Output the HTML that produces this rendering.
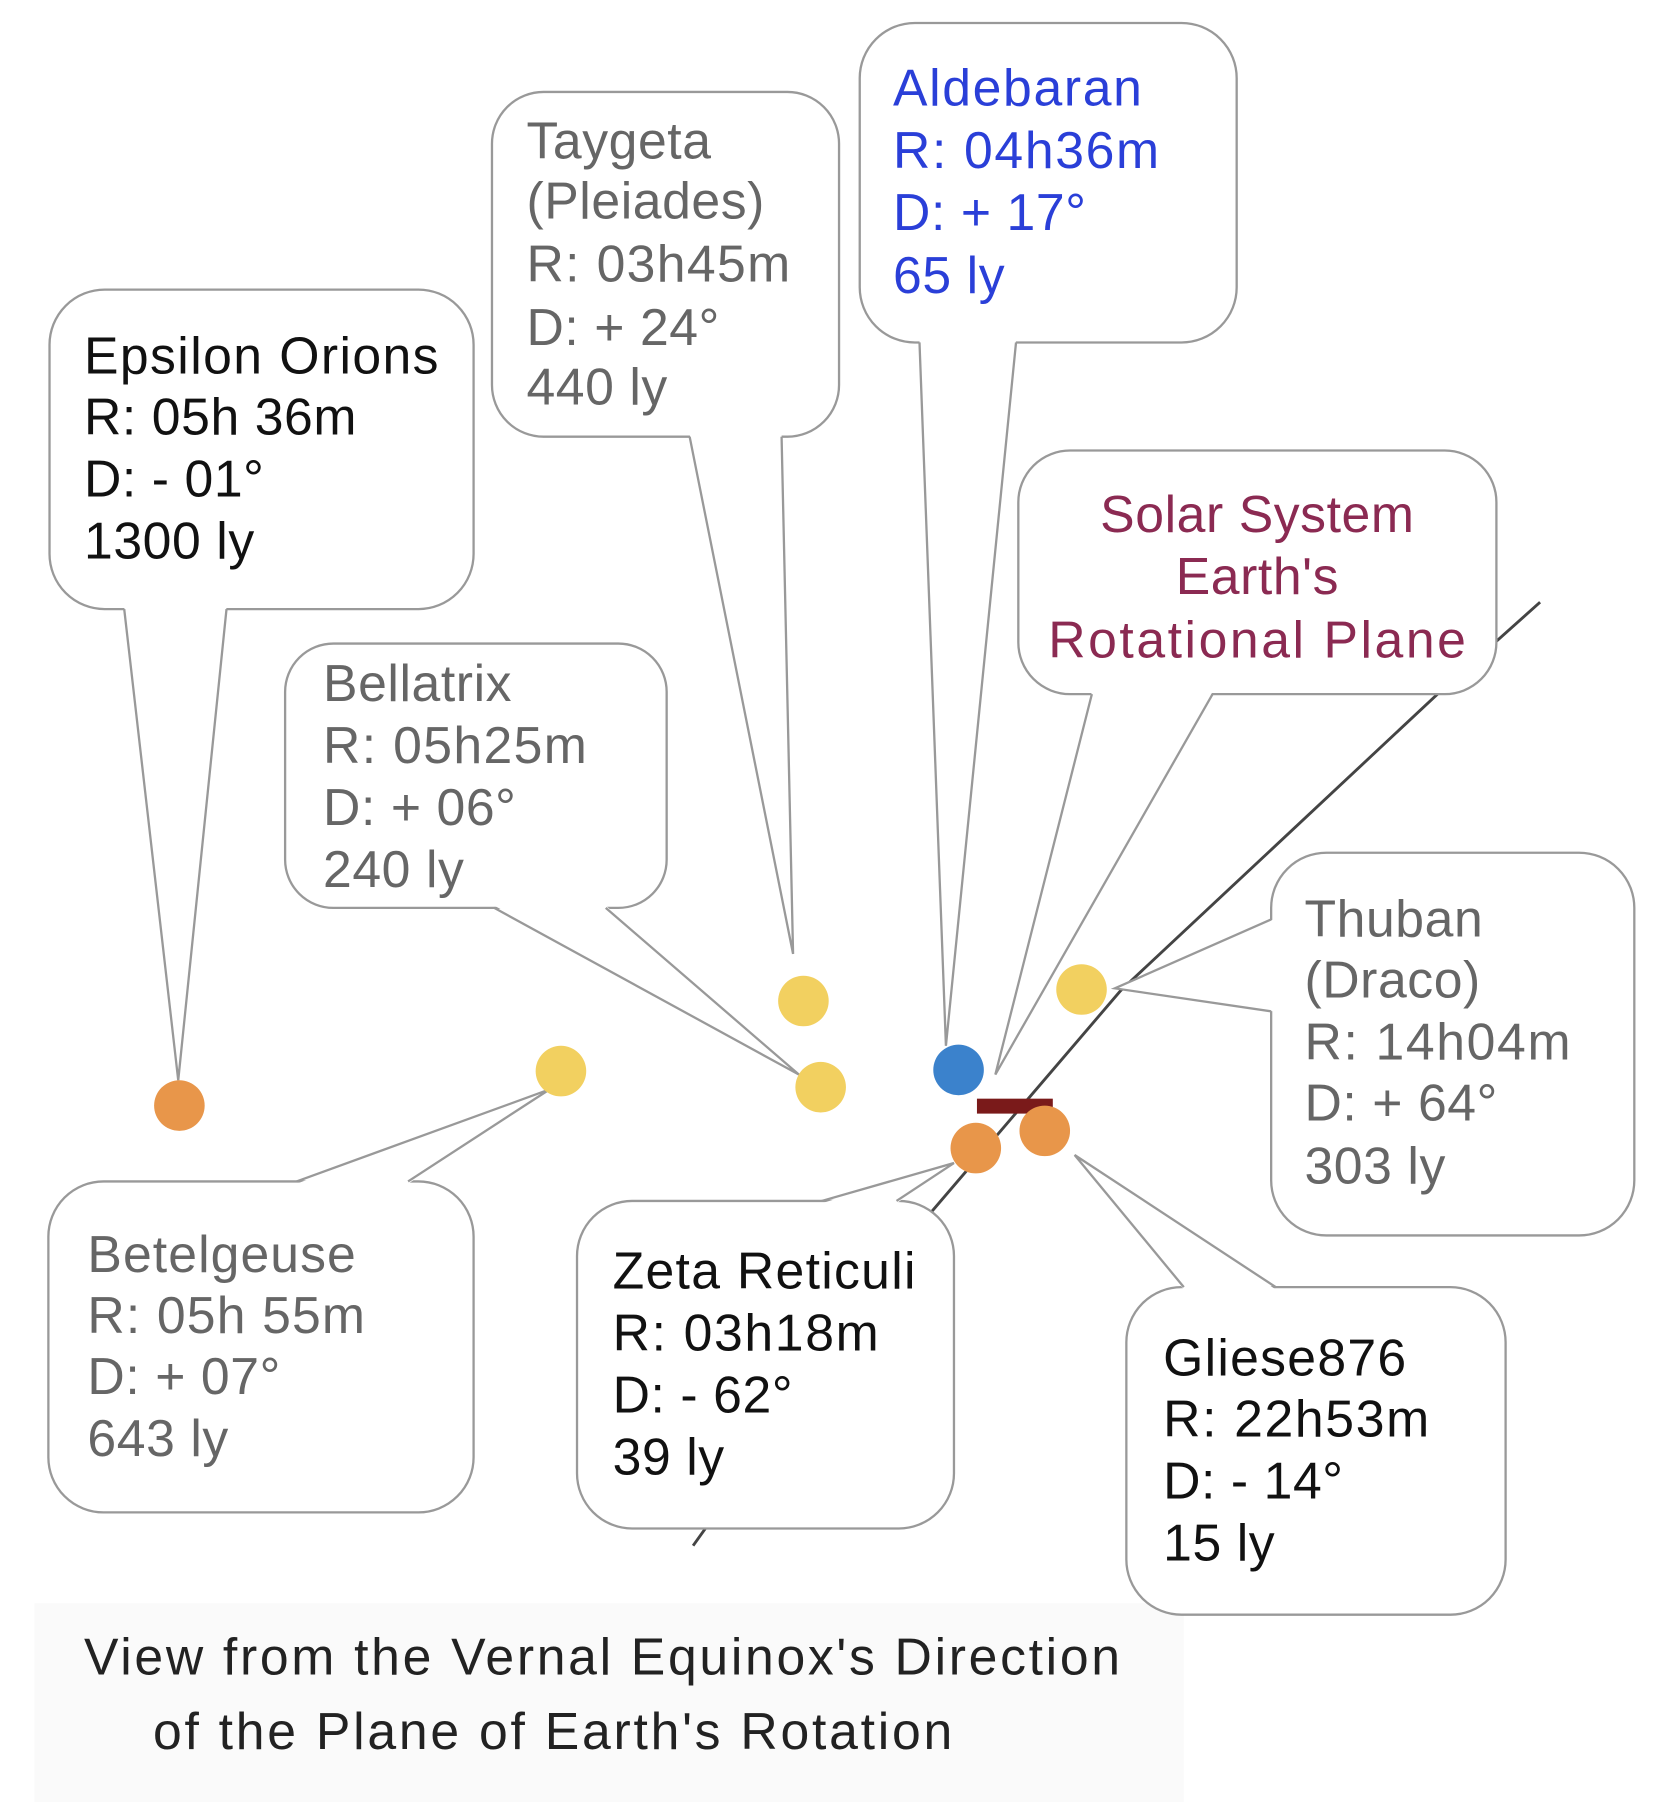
<!DOCTYPE html>
<html><head><meta charset="utf-8"><style>
html,body{margin:0;padding:0;background:#fff;}
svg{display:block;}
text{font-family:"Liberation Sans",Arial,sans-serif;font-size:45px;letter-spacing:0.5px;}
</style></head><body>
<svg width="1662" height="1802" viewBox="0 0 1446 1568" xmlns="http://www.w3.org/2000/svg">
<rect x="0" y="0" width="1446" height="1568" fill="#fff"/>
<rect x="30" y="1395" width="1000" height="173" fill="#fafafa"/>
<polyline points="1340,524 1255,600 975,862 810,1055 603,1345" fill="none" stroke="#444" stroke-width="2.5"/>

<g fill="#fff" stroke="#999" stroke-width="2">
<rect x="43" y="252" width="369" height="278" rx="48"/>
<polygon points="108,528 155,940 197,528" stroke="none"/>
<polyline points="108,530 155,940 197,530" fill="none"/>
<rect x="428" y="80" width="302" height="300" rx="45"/>
<polygon points="600,378 690,830 680,378" stroke="none"/>
<polyline points="600,380 690,830 680,380" fill="none"/>
<rect x="748" y="20" width="328" height="278" rx="48"/>
<polygon points="800,296 823,910 884,296" stroke="none"/>
<polyline points="800,298 823,910 884,298" fill="none"/>
<rect x="886" y="392" width="416" height="212" rx="45"/>
<polygon points="950,602 866,935 1055,602" stroke="none"/>
<polyline points="950,604 866,935 1055,604" fill="none"/>
<rect x="248" y="560" width="332" height="230" rx="42"/>
<polygon points="430,788 695,935 527,788" stroke="none"/>
<polyline points="430,790 695,935 527,790" fill="none"/>
<rect x="1106" y="742" width="316" height="333" rx="48"/>
<polygon points="1108,800 970,860 1108,880" stroke="none"/>
<polyline points="1106,800 970,860 1106,880" fill="none"/>
<rect x="42" y="1028" width="370" height="288" rx="48"/>
<polygon points="258,1030 478,948 355,1030" stroke="none"/>
<polyline points="258,1028 478,948 355,1028" fill="none"/>
<rect x="502" y="1045" width="328" height="285" rx="48"/>
<polygon points="715,1047 830,1012 780,1047" stroke="none"/>
<polyline points="715,1045 830,1012 780,1045" fill="none"/>
<rect x="980" y="1120" width="330" height="285" rx="48"/>
<polygon points="1030,1122 935,1005 1110,1122" stroke="none"/>
<polyline points="1030,1120 935,1005 1110,1120" fill="none"/>
</g>

<circle cx="156" cy="962" r="22" fill="#e8964a"/>
<circle cx="488" cy="932" r="22" fill="#f2d060"/>
<circle cx="699" cy="871" r="22" fill="#f2d060"/>
<circle cx="714" cy="946" r="22" fill="#f2d060"/>
<circle cx="834" cy="931" r="22" fill="#3b82cc"/>
<circle cx="941" cy="861" r="22" fill="#f2d060"/>
<rect x="850" y="956" width="66" height="13" fill="#7a1a1a"/>
<circle cx="849" cy="999" r="22" fill="#e8964a"/>
<circle cx="909" cy="984" r="22" fill="#e8964a"/>

<g fill="#111">
<text x="73" y="325" textLength="309">Epsilon Orions</text>
<text x="73" y="378">R: 05h 36m</text>
<text x="73" y="432">D: - 01°</text>
<text x="73" y="486">1300 ly</text>
</g>
<g fill="#666">
<text x="458" y="138">Taygeta</text>
<text x="458" y="190">(Pleiades)</text>
<text x="458" y="245" textLength="230">R: 03h45m</text>
<text x="458" y="300">D: + 24°</text>
<text x="458" y="352">440 ly</text>
</g>
<g fill="#2a3fd8">
<text x="777" y="92" textLength="217">Aldebaran</text>
<text x="777" y="146" textLength="232">R: 04h36m</text>
<text x="777" y="200">D: + 17°</text>
<text x="777" y="255">65 ly</text>
</g>
<g fill="#8b2a52" text-anchor="middle">
<text x="1094" y="463">Solar System</text>
<text x="1094" y="517">Earth's</text>
<text x="1094" y="572" textLength="364">Rotational Plane</text>
</g>
<g fill="#666">
<text x="281" y="610">Bellatrix</text>
<text x="281" y="664" textLength="230">R: 05h25m</text>
<text x="281" y="718">D: + 06°</text>
<text x="281" y="772">240 ly</text>
</g>
<g fill="#666">
<text x="1135" y="815">Thuban</text>
<text x="1135" y="868">(Draco)</text>
<text x="1135" y="922" textLength="232">R: 14h04m</text>
<text x="1135" y="975">D: + 64°</text>
<text x="1135" y="1030">303 ly</text>
</g>
<g fill="#666">
<text x="76" y="1107" textLength="234">Betelgeuse</text>
<text x="76" y="1160" textLength="242">R: 05h 55m</text>
<text x="76" y="1213">D: + 07°</text>
<text x="76" y="1267">643 ly</text>
</g>
<g fill="#111">
<text x="533" y="1121" textLength="264">Zeta Reticuli</text>
<text x="533" y="1175" textLength="232">R: 03h18m</text>
<text x="533" y="1229">D: - 62°</text>
<text x="533" y="1283">39 ly</text>
</g>
<g fill="#111">
<text x="1012" y="1197" textLength="212">Gliese876</text>
<text x="1012" y="1250" textLength="232">R: 22h53m</text>
<text x="1012" y="1304">D: - 14°</text>
<text x="1012" y="1358">15 ly</text>
</g>
<g fill="#222">
<text x="73" y="1457" textLength="902">View from the Vernal Equinox's Direction</text>
<text x="133" y="1522" textLength="696">of the Plane of Earth's Rotation</text>
</g>
</svg>
</body></html>
